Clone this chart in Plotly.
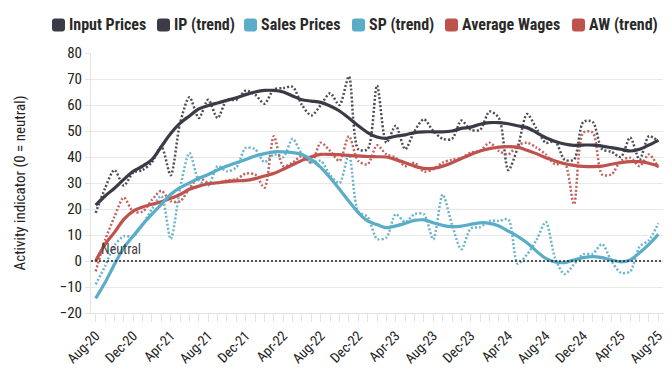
import plotly.graph_objects as go
import pandas as pd

months = [d.strftime("%b-%y") for d in pd.date_range("2020-08-01", "2025-08-01", freq="MS")]

input_prices = [18.5, 28, 35, 29, 34, 35, 38, 44, 33, 53, 63, 55, 62, 55, 62, 62, 65.5, 64, 60.5, 66,
                66.5, 67, 60, 56, 60, 64.5, 60, 71, 43, 43, 67.5, 45.5, 52, 43, 50, 54.5, 50, 47, 47, 54,
                50.5, 50.5, 57.5, 55, 35, 43.5, 56.5, 51, 45.5, 46, 39, 39, 53.5, 53.5, 43, 42, 40, 47.5, 39, 48, 46]
ip_trend = [21.5, 25, 28, 31.4, 34.5, 36.5, 39, 44, 49, 53, 55.8, 58.5, 59.8, 60.8, 61.8, 62.8, 64, 65, 65.6, 65.6,
            65, 63.5, 62, 61.5, 61, 59.6, 57.7, 55, 52, 49.4, 47.7, 47.2, 48, 48.5, 49.4, 49.7, 49.7, 49.7, 50, 51,
            51.5, 52.6, 53.2, 53.2, 52.8, 52, 51.3, 49.4, 47.4, 46, 45, 44.5, 44.6, 44.6, 44.2, 43.6, 43, 42.3, 43, 44.6, 46.4]
sales_prices = [-9, -2, 6, 9.5, 9.5, 14, 20, 25, 8.5, 28, 41.5, 31, 29, 36.5, 34.5, 36, 43.5, 43, 38, 41,
                40, 47, 41, 38, 38.5, 33, 30, 41, 19, 17, 8.5, 9, 18, 15, 18, 18, 8.3, 25.6, 14, 4.5,
                12.5, 13, 15.4, 15.4, 16, -1, 2.5, 8, 15, 1, -5, -1.3, 2.6, 2.8, 6.5, 0, -4.5, -4, 5.5, 8, 14.5]
sp_trend = [-14.4, -8.3, -1.3, 5.1, 9.6, 14, 18, 21.8, 25.6, 28.2, 30, 31.8, 33.3, 35, 36.5, 37.8, 39, 40.4, 41.3, 42,
            42, 41.7, 41, 39, 36, 32, 27.6, 23, 18.6, 15.4, 14, 12.8, 13.5, 14.5, 15.6, 15.8, 14.7, 13.7, 13.2, 13.4,
            14.1, 14.7, 14.5, 13.5, 11.5, 9.5, 7, 3.8, 1, -0.4, -0.6, 0.4, 1.3, 1.7, 1.3, 0.4, -0.3, 0.4, 3.2, 6.4, 10.3]
average_wages = [-4, 8, 17, 24.4, 19, 19, 23.5, 27, 23, 23, 28, 32, 30, 30, 31, 31.5, 33.6, 33.3, 28.2, 48,
                 36.5, 37.8, 40.4, 37.8, 45.5, 42.3, 38.5, 48, 38.5, 37.2, 44.5, 41, 39.7, 36.5, 37.8, 34.4, 35.3, 37.8, 39, 39.7,
                 41.7, 42.3, 45.5, 42.3, 41, 44.5, 45.5, 43.6, 41, 37.2, 37.8, 21.8, 49.4, 49.4, 33.3, 33.3, 38.5, 39.7, 36.5, 41, 35.9]
aw_trend = [0, 6.4, 11, 16, 19.2, 20.8, 21.8, 22.8, 24.1, 25.6, 27.6, 28.8, 29.7, 30.1, 30.5, 30.8, 31, 31.7, 32.7, 33.7,
            35.3, 37, 38.7, 40.1, 41, 41, 40.9, 40.6, 40.4, 40.2, 40.1, 40, 39, 37.8, 36.5, 35.6, 35.6, 36.5, 37.8, 39.4,
            41, 42.3, 43.2, 43.8, 44, 43.8, 42.6, 41.3, 39.7, 38.5, 37.4, 36.8, 36.4, 36.3, 36.5, 37.2, 37.8, 38.2, 38.2, 37.6, 36.5]

tick_labels = months[::4]
legend_names = ["Input Prices", "IP (trend)", "Sales Prices", "SP (trend)", "Average Wages", "AW (trend)"]

DARK = "#3b3b47"
BLUE = "#5aadc8"
RED = "#be524d"
legend_colors = [DARK, DARK, BLUE, BLUE, RED, RED]
FONT = "Roboto Condensed, Liberation Sans Narrow, DejaVu Sans Condensed, Roboto, sans-serif"

W, H = 672, 376
ML, MR, MT, MB = 83, 17, 45, 71
PW, PH = W - ML - MR, H - MT - MB


def px_to_paper(px, py):
    return (px - ML) / PW, (H - MB - py) / PH


x = list(range(len(months)))
fig = go.Figure()

raw = [(input_prices, DARK, "Input Prices"), (sales_prices, BLUE, "Sales Prices"), (average_wages, RED, "Average Wages")]
for vals, col, name in raw:
    fig.add_trace(go.Scatter(x=x, y=vals, mode="lines", name=name, showlegend=False,
                             line=dict(color=col, width=2.5, dash="2px,2px", shape="spline", smoothing=0.8),
                             opacity=0.9))
trends = [(aw_trend, RED, "AW (trend)"), (sp_trend, BLUE, "SP (trend)"), (ip_trend, DARK, "IP (trend)")]
for vals, col, name in trends:
    fig.add_trace(go.Scatter(x=x, y=vals, mode="lines", name=name, showlegend=False,
                             line=dict(color=col, width=3.2, shape="spline", smoothing=0.8)))

# custom legend (rounded squares + bold labels) above the plot
legend_marker_left = [44, 149, 236, 344, 437, 564]
LEG_Y = 17
SZ = 13
R = 3
for name, col, lx in zip(legend_names, legend_colors, legend_marker_left):
    x0, y0 = lx, LEG_Y - SZ / 2
    x1, y1 = lx + SZ, LEG_Y + SZ / 2
    pts = lambda a, b: "%.5f,%.5f" % px_to_paper(a, b)
    path = ("M " + pts(x0 + R, y0) + " L " + pts(x1 - R, y0) + " Q " + pts(x1, y0) + " " + pts(x1, y0 + R) +
            " L " + pts(x1, y1 - R) + " Q " + pts(x1, y1) + " " + pts(x1 - R, y1) +
            " L " + pts(x0 + R, y1) + " Q " + pts(x0, y1) + " " + pts(x0, y1 - R) +
            " L " + pts(x0, y0 + R) + " Q " + pts(x0, y0) + " " + pts(x0 + R, y0) + " Z")
    fig.add_shape(type="path", xref="paper", yref="paper", path=path, fillcolor=col,
                  line=dict(width=0), layer="above")
    tx, ty = px_to_paper(lx + SZ + 2, LEG_Y)
    fig.add_annotation(x=tx, y=ty, xref="paper", yref="paper", text="<b>%s</b>" % name, showarrow=False,
                       xanchor="left", yanchor="middle",
                       font=dict(family=FONT, size=16, color="#2a2a2a"))

fig.add_shape(type="line", xref="paper", yref="y", x0=0, x1=1, y0=0, y1=0,
              line=dict(color="#222", width=1.5, dash="2px,2px"), layer="above")
fig.add_annotation(x=0.3, y=4.8, xref="x", yref="y", text="Neutral", showarrow=False,
                   xanchor="left", yanchor="middle", font=dict(family=FONT, size=14, color="#444"))

fig.update_layout(
    width=W, height=H,
    margin=dict(l=ML, r=MR, t=MT, b=MB),
    plot_bgcolor="white", paper_bgcolor="white",
    font=dict(family=FONT, size=15, color="#222"),
    showlegend=False,
    xaxis=dict(range=[-0.5, len(months) - 0.5], tickmode="array", tickvals=x[::4], ticktext=tick_labels,
               tickangle=-45, ticks="outside", ticklen=8, tickcolor="#e3e3e3",
               showgrid=False, showline=True, linecolor="#e3e3e3", zeroline=False,
               tickfont=dict(family=FONT, size=14, color="#222"),
               minor=dict(tickmode="array", tickvals=x, ticks="outside", ticklen=8, tickcolor="#e3e3e3", showgrid=False)),
    yaxis=dict(range=[-20, 80], dtick=10, tick0=0, showgrid=True, gridcolor="#e8e8e8", gridwidth=1,
               zeroline=False, showline=True, linecolor="#e3e3e3", ticks="outside", ticklen=5, tickcolor="#e3e3e3",
               tickfont=dict(family=FONT, size=15, color="#222"),
               title=dict(text="Activity indicator (0 = neutral)", font=dict(family=FONT, size=15, color="#222"), standoff=30)),
)

fig.write_html("out.html")
